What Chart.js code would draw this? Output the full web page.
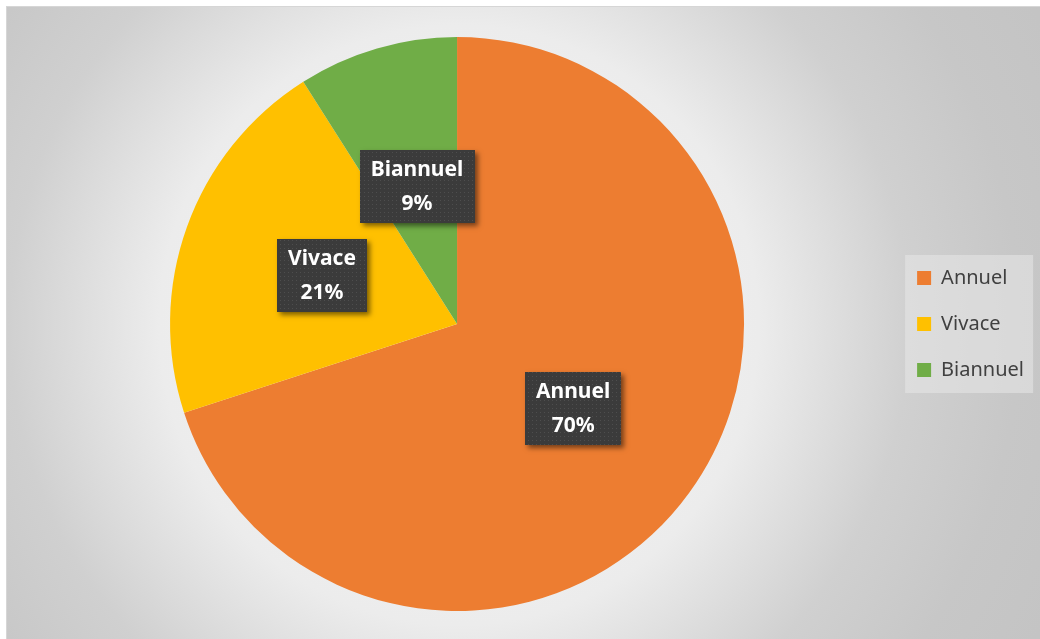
<!DOCTYPE html>
<html>
<head>
<meta charset="utf-8">
<title>Annuel / Vivace / Biannuel</title>
<script src="https://cdn.jsdelivr.net/npm/chart.js@4.4.1/dist/chart.umd.min.js"></script>
<style>
  html, body { margin: 0; padding: 0; background: #fff; overflow: hidden; }
  #frame {
    position: absolute; left: 6px; top: 6px; width: 1040px; height: 640px;
    border: 1px solid #d6d6d6;
    background: radial-gradient(circle at 452px 318px, #f8f8f8 0px, #ececec 300px, #d0d0d0 450px, #c7c7c7 560px, #c2c2c2 720px);
  }
  #wrap { position: absolute; left: 0; top: 0; width: 1033px; height: 632px; }
</style>
</head>
<body>
<div id="frame">
  <div id="wrap"><canvas id="pieChart"></canvas></div>
</div>
<script>
// plant types and their share in percent
const categories = ['Annuel', 'Vivace', 'Biannuel'];
const shares = [70, 21, 9];
const sliceColors = ['#ED7D31', '#FFC000', '#70AD47'];

// small dotted texture used behind the data labels
function dotPattern(ctx) {
    const tile = document.createElement('canvas');
    tile.width = 4;
    tile.height = 4;
    const t = tile.getContext('2d');
    t.fillStyle = '#3b3b3b';
    t.fillRect(0, 0, 4, 4);
    t.fillStyle = '#4e4e4e';
    t.fillRect(1, 1, 1, 1);
    return ctx.createPattern(tile, 'repeat');
}

// light panel behind the legend entries
const legendPanel = {
    id: 'legendPanel',
    beforeDraw(chart) {
        const lg = chart.legend;
        if (!lg || !lg.legendHitBoxes || !lg.legendHitBoxes.length) return;
        const boxes = lg.legendHitBoxes;
        const first = boxes[0];
        const last = boxes[boxes.length - 1];
        const ctx = chart.ctx;
        ctx.save();
        ctx.fillStyle = 'rgba(232, 232, 232, 0.55)';
        ctx.fillRect(first.left - 12, first.top - 13, 128, last.top + last.height - first.top + 26);
        ctx.restore();
    }
};

// dark boxed labels (name + percent) in the middle of each slice
const sliceLabels = {
    id: 'sliceLabels',
    afterDatasetsDraw(chart) {
        const ctx = chart.ctx;
        const meta = chart.getDatasetMeta(0);
        const pattern = dotPattern(ctx);
        ctx.save();
        ctx.font = 'bold 21px "Noto Sans"';
        meta.data.forEach((arc, i) => {
            const p = arc.getCenterPoint();
            const lines = [chart.data.labels[i], chart.data.datasets[0].data[i] + '%'];
            const w = Math.round(Math.max(...lines.map(s => ctx.measureText(s).width)) + 22);
            const h = 73;
            const x = Math.round(p.x - w / 2);
            const y = Math.round(p.y - h / 2);

            ctx.save();
            ctx.shadowColor = 'rgba(0, 0, 0, 0.5)';
            ctx.shadowOffsetX = 3;
            ctx.shadowOffsetY = 3;
            ctx.shadowBlur = 5;
            ctx.fillStyle = '#3b3b3b';
            ctx.fillRect(x, y, w, h);
            ctx.restore();

            ctx.fillStyle = pattern;
            ctx.fillRect(x, y, w, h);

            ctx.fillStyle = '#ffffff';
            ctx.textAlign = 'center';
            ctx.textBaseline = 'middle';
            ctx.fillText(lines[0], p.x, p.y - 16);
            ctx.fillText(lines[1], p.x, p.y + 18);
        });
        ctx.restore();
    }
};

new Chart(document.getElementById('pieChart'), {
    type: 'pie',
    data: {
        labels: categories,
        datasets: [{
            data: shares,
            backgroundColor: sliceColors,
            borderWidth: 0
        }]
    },
    options: {
        responsive: true,
        maintainAspectRatio: false,
        animation: false,
        layout: { padding: { left: 16, right: 6, top: 30, bottom: 28 } },
        plugins: {
            tooltip: { enabled: false },
            legend: {
                position: 'right',
                labels: {
                    boxWidth: 14,
                    boxHeight: 14,
                    padding: 26,
                    color: '#404040',
                    font: { family: '"Noto Sans"', size: 20 }
                }
            }
        }
    },
    plugins: [legendPanel, sliceLabels]
});
</script>
</body>
</html>
